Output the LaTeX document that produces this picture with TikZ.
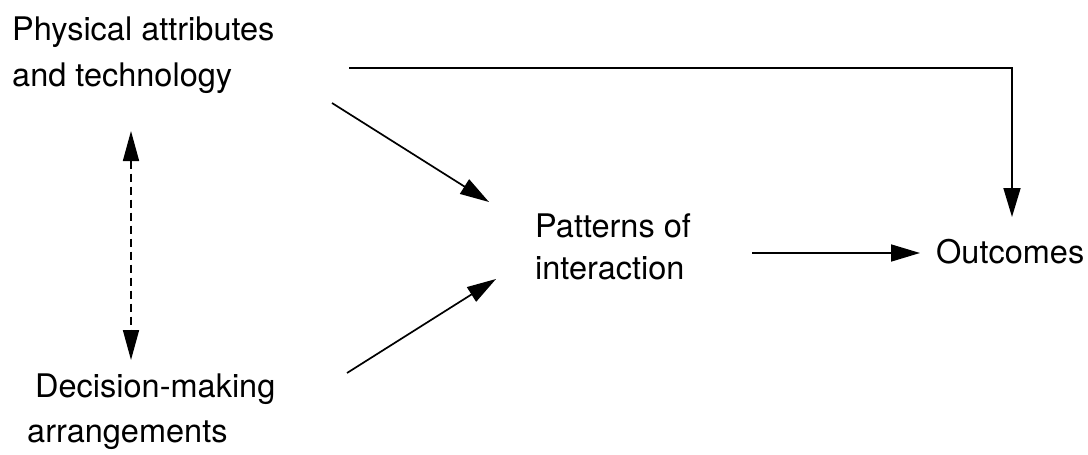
\documentclass[tikz,border=0pt]{standalone}
\usepackage{fontspec}
\setmainfont{TeX Gyre Heros}
\usetikzlibrary{arrows.meta}
\begin{document}
\begin{tikzpicture}[x=1pt,y=-1pt,
  lbl/.style={anchor=base west,inner sep=0pt,font=\fontsize{32.5}{40}\selectfont},
  link/.style={line width=1.7pt,-{Triangle[length=29pt,width=17pt]}},
  both/.style={line width=1.7pt,dash pattern=on 8pt off 5pt,
    {Triangle[length=30pt,width=16pt]}-{Triangle[length=30pt,width=16pt]}}]
\useasboundingbox (0,0) rectangle (1088,455);
% labels
\node[lbl] (phys1) at (12,40) {Physical attributes};
\node[lbl] (phys2) at (12,86) {and technology};
\node[lbl] (dec1) at (35,397) {Decision-making};
\node[lbl] (dec2) at (27,442) {arrangements};
\node[lbl] (pat1) at (535,237) {Patterns of};
\node[lbl] (pat2) at (535,279) {interaction};
\node[lbl] (out) at (936,263) {Outcomes};
% arrow end points
\coordinate (vTop) at (131,131);
\coordinate (vBot) at (131,360);
\coordinate (aS) at (332,103);
\coordinate (aE) at (489,202);
\coordinate (bS) at (347,373);
\coordinate (bE) at (496,279);
\coordinate (cS) at (752,253);
\coordinate (cE) at (920,253);
\coordinate (dS) at (349,68);
\coordinate (dK) at (1012,68);
\coordinate (dE) at (1012,217);
% connectors
\draw[both] (vTop) -- (vBot);
\draw[link] (aS) -- (aE);
\draw[link] (bS) -- (bE);
\draw[link] (cS) -- (cE);
\draw[link] (dS) -- (dK) -- (dE);
\end{tikzpicture}
\end{document}
